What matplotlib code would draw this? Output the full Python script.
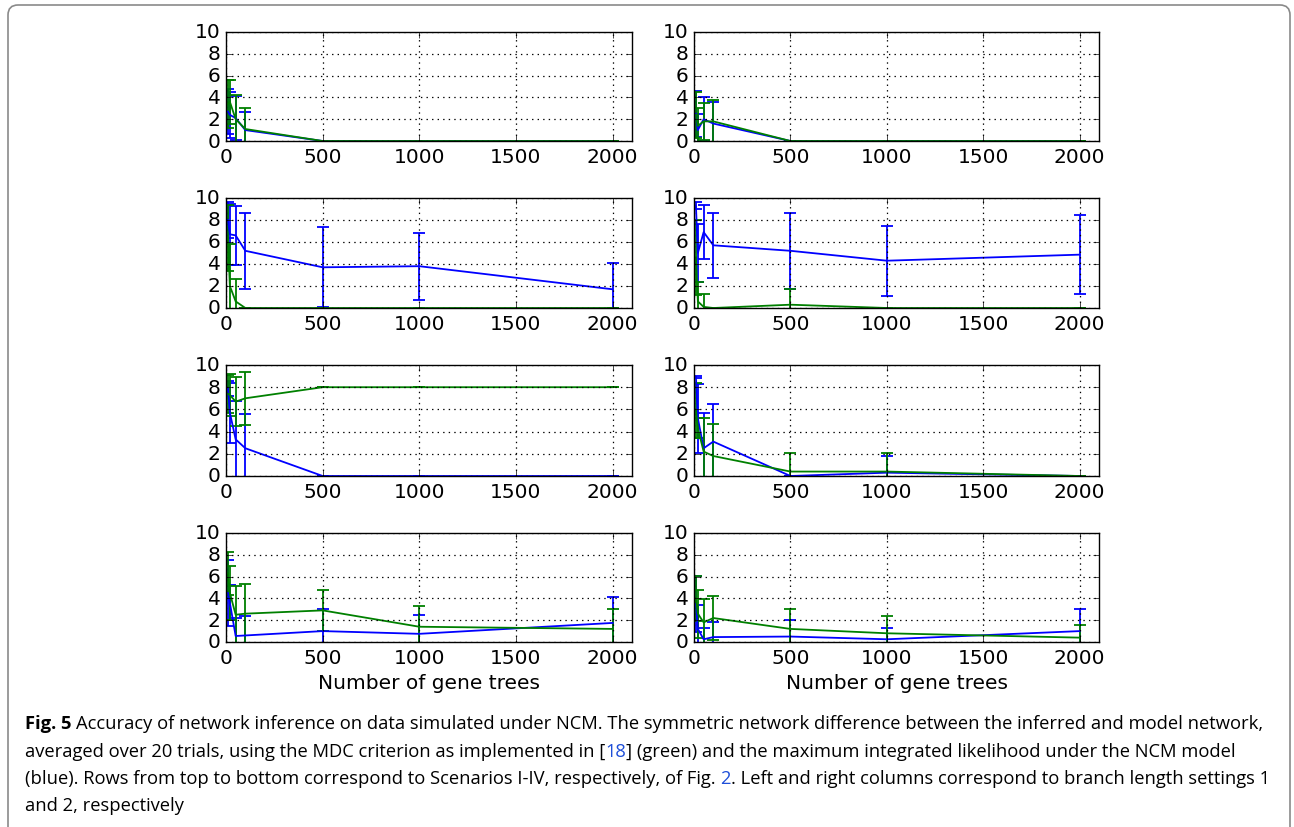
import matplotlib
matplotlib.use("Agg")
import matplotlib.pyplot as plt
from matplotlib.patches import FancyBboxPatch
from matplotlib.transforms import IdentityTransform

plt.style.use("classic")

gene_trees = [10, 20, 50, 100, 500, 1000, 2000]

# Scenario I, branch setting 1 / 2
blue_1a = [2.7, 2.4, 2.1, 1.0, 0.0, 0.0, 0.0]
blue_1a_err = [2.1, 2.1, 2.0, 1.7, 0.0, 0.0, 0.0]
green_1a = [3.4, 3.6, 2.0, 1.1, 0.0, 0.0, 0.0]
green_1a_err = [2.2, 2.0, 2.2, 1.9, 0.0, 0.0, 0.0]
blue_1b = [2.5, 1.0, 2.0, 1.6, 0.0, 0.0, 0.0]
blue_1b_err = [2.1, 1.5, 2.0, 2.0, 0.0, 0.0, 0.0]
green_1b = [2.4, 1.4, 1.8, 1.8, 0.0, 0.0, 0.0]
green_1b_err = [2.1, 1.6, 1.7, 2.0, 0.0, 0.0, 0.0]

# Scenario II
blue_2a = [8.0, 6.7, 6.6, 5.2, 3.7, 3.8, 1.7]
blue_2a_err = [1.6, 2.8, 2.7, 3.45, 3.65, 3.05, 2.4]
green_2a = [6.4, 2.0, 0.6, 0.0, 0.0, 0.0, 0.0]
green_2a_err = [3.0, 3.8, 2.0, 0.0, 0.0, 0.0, 0.0]
blue_2b = [9.3, 5.0, 6.9, 5.7, 5.2, 4.3, 4.85]
blue_2b_err = [0.3, 2.6, 2.45, 2.95, 3.45, 3.2, 3.6]
green_2b = [4.6, 0.6, 0.1, 0.0, 0.3, 0.0, 0.0]
green_2b_err = [3.4, 1.8, 1.2, 0.0, 1.4, 0.0, 0.0]

# Scenario III
blue_3a = [7.9, 5.7, 3.3, 2.5, 0.0, 0.0, 0.0]
blue_3a_err = [0.7, 2.7, 3.5, 3.1, 0.0, 0.0, 0.0]
green_3a = [7.4, 7.3, 6.7, 7.0, 8.0, 8.0, 8.0]
green_3a_err = [1.7, 1.9, 2.2, 2.4, 0.0, 0.0, 0.0]
blue_3b = [8.9, 5.2, 2.5, 3.1, 0.0, 0.3, 0.0]
blue_3b_err = [0.1, 3.1, 3.2, 3.4, 0.0, 1.5, 0.0]
green_3b = [5.9, 4.3, 2.2, 1.8, 0.4, 0.4, 0.0]
green_3b_err = [2.5, 0.9, 3.0, 2.9, 1.7, 1.7, 0.0]

# Scenario IV
blue_4a = [4.5, 3.6, 0.55, 0.6, 1.0, 0.75, 1.75]
blue_4a_err = [3.0, 1.6, 1.65, 1.8, 2.0, 1.75, 2.35]
green_4a = [6.3, 4.5, 2.5, 2.6, 2.9, 1.4, 1.2]
green_4a_err = [2.0, 2.5, 2.6, 2.7, 1.9, 1.9, 1.8]
blue_4b = [3.5, 1.2, 0.25, 0.45, 0.5, 0.25, 1.0]
blue_4b_err = [2.6, 2.2, 1.05, 1.35, 1.5, 1.05, 2.0]
green_4b = [4.0, 2.6, 1.8, 2.2, 1.2, 0.8, 0.4]
green_4b_err = [2.1, 2.2, 2.1, 2.0, 1.8, 1.6, 1.2]

panels = [
    [(blue_1a, blue_1a_err, green_1a, green_1a_err), (blue_1b, blue_1b_err, green_1b, green_1b_err)],
    [(blue_2a, blue_2a_err, green_2a, green_2a_err), (blue_2b, blue_2b_err, green_2b, green_2b_err)],
    [(blue_3a, blue_3a_err, green_3a, green_3a_err), (blue_3b, blue_3b_err, green_3b, green_3b_err)],
    [(blue_4a, blue_4a_err, green_4a, green_4a_err), (blue_4b, blue_4b_err, green_4b, green_4b_err)],
]

W, H = 1294, 828
fig = plt.figure(figsize=(W / 100, H / 100), dpi=100, facecolor="white")

col_x = [(226, 632), (694, 1099)]
row_y = [(33, 142), (199, 309), (366, 477), (534, 643)]

for r in range(4):
    for c in range(2):
        x0, x1 = col_x[c]
        t0, t1 = row_y[r]
        ax = fig.add_axes([x0 / W, 1 - t1 / H, (x1 - x0) / W, (t1 - t0) / H])
        b, be, g, ge = panels[r][c]
        ax.errorbar(gene_trees, b, yerr=be, color="b", capsize=4, lw=1.3, mew=1.3)
        ax.errorbar(gene_trees, g, yerr=ge, color="g", capsize=4, lw=1.3, mew=1.3)
        ax.set_xlim(0, 2100)
        ax.set_ylim(0, 10)
        ax.set_xticks([0, 500, 1000, 1500, 2000])
        ax.set_yticks([0, 2, 4, 6, 8, 10])
        ax.grid(True, linestyle=":", color="k", linewidth=0.9)
        ax.tick_params(labelsize=14.5)
        if r == 3:
            ax.set_xlabel("Number of gene trees", fontsize=14.5)

# rounded frame around figure and caption
frame = FancyBboxPatch((8, -30), 1282, 852, boxstyle="round,pad=0,rounding_size=10",
                       transform=IdentityTransform(), facecolor="none",
                       edgecolor="#8a8a8a", linewidth=1.2)
fig.patches.append(frame)

# caption with coloured references
renderer = fig.canvas.get_renderer()
cap_font = dict(family="Open Sans", fontsize=13.2)
link = "#1f4fd8"


def width(s, weight="normal"):
    t = fig.text(0, 0, s, transform=IdentityTransform(), fontweight=weight, **cap_font)
    w = t.get_window_extent(renderer).width
    t.remove()
    return w


space = width("a a") - width("aa")

caption = [
    [("Fig. 5", "k", "bold"), (" Accuracy of network inference on data simulated under NCM. The symmetric network difference between the inferred and model network,", "k", "normal")],
    [("averaged over 20 trials, using the MDC criterion as implemented in [", "k", "normal"), ("18", link, "normal"), ("] (green) and the maximum integrated likelihood under the NCM model", "k", "normal")],
    [("(blue). Rows from top to bottom correspond to Scenarios I-IV, respectively, of Fig.", "k", "normal"), (" 2", link, "normal"), (". Left and right columns correspond to branch length settings 1", "k", "normal")],
    [("and 2, respectively", "k", "normal")],
]
baselines = [H - 729, H - 757, H - 784, H - 811]

for line, yb in zip(caption, baselines):
    x = 25
    for s, color, weight in line:
        lead = len(s) - len(s.lstrip(" "))
        x += lead * space
        s = s.lstrip(" ")
        t = fig.text(x, yb, s, transform=IdentityTransform(), color=color,
                     fontweight=weight, va="baseline", **cap_font)
        x = t.get_window_extent(renderer).x1

fig.savefig("out.png", dpi=100, facecolor="white")
